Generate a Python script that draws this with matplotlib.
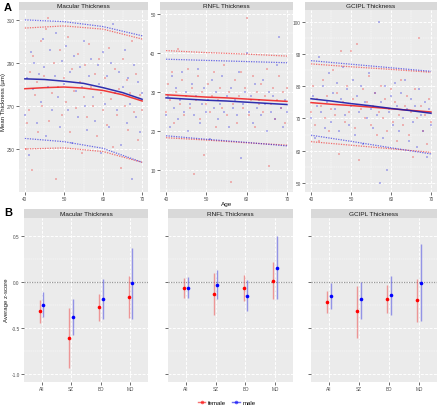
import matplotlib
matplotlib.use('Agg')
import matplotlib.pyplot as plt
from matplotlib.lines import Line2D

plt.rcParams['font.family'] = ['Liberation Sans', 'DejaVu Sans']

W, H = 440, 410
RED = '#F21818'
BLUE = '#1010E0'
GRID_BG = '#EBEBEB'
STRIP_BG = '#D9D9D9'
TXT = '#4D4D4D'

# ---------------- panel A data ----------------
ages = [40, 50, 60, 70]
fit_ages = [40, 45, 50, 55, 60, 65, 70]

# Macular thickness
mac_f_age = [40.2, 40.5, 41, 41.3, 41.8, 42, 42.5, 43, 43.4, 44, 44.5, 45, 45.5, 46, 46.3, 47, 47.5, 48, 48.4, 49,
             49.5, 50, 50.5, 51, 51.5, 52, 52.5, 53, 53.5, 54, 54.5, 55, 55.5, 56, 56.5, 57, 57.5, 58, 58.5, 59,
             59.5, 60, 60.5, 61, 61.5, 62, 62.5, 63, 63.5, 64, 64.5, 65, 65.5, 66, 66.5, 67, 67.5, 68, 68.5, 69,
             69.5, 70]
mac_f_val = [250, 262, 268, 286, 240, 293, 275, 281, 258, 300, 270, 284, 306, 311, 263, 276, 290, 236, 279, 296,
             266, 283, 272, 302, 258, 287, 277, 269, 294, 281, 248, 274, 289, 265, 299, 279, 270, 285, 256, 292,
             276, 268, 283, 261, 297, 273, 251, 287, 266, 278, 241, 292, 270, 282, 259, 276, 300, 267, 285, 254,
             275, 268]
mac_m_age = [40.1, 40.6, 41, 41.5, 42, 42.4, 43, 43.5, 44, 44.6, 45, 45.5, 46, 46.5, 47, 47.6, 48, 48.5, 49, 49.5,
             50, 50.6, 51, 51.5, 52, 52.5, 53, 53.6, 54, 54.5, 55, 55.5, 56, 56.5, 57, 57.5, 58, 58.6, 59, 59.5,
             60, 60.5, 61, 61.6, 62, 62.5, 63, 63.5, 64, 64.5, 65, 65.5, 66, 66.5, 67, 67.5, 68, 68.5, 69, 69.5, 70]
mac_m_val = [266, 283, 247, 295, 278, 290, 262, 285, 272, 301, 288, 256, 279, 296, 268, 284, 304, 274, 260, 291,
             280, 298, 268, 286, 253, 293, 277, 265, 288, 279, 300, 270, 259, 284, 292, 274, 263, 289, 280, 248,
             295, 271, 284, 260, 290, 308, 276, 268, 286, 252, 279, 296, 262, 283, 271, 236, 289, 265, 281, 258, 276]
mac_f_fit = [278.0, 278.5, 278.8, 278.3, 277.2, 275.2, 272.3]
mac_m_fit = [282.6, 282.3, 281.5, 280.5, 278.5, 276.2, 273.1]
mac_f_hi = [306.2, 307.2, 305.7, 301.1]
mac_m_hi = [310.0, 309.2, 306.9, 302.6]
mac_f_lo = [250.0, 250.5, 248.8, 243.8]
mac_m_lo = [254.9, 253.4, 250.3, 243.8]

# RNFL thickness
rnfl_f_age = [40, 40.4, 41, 41.5, 42, 42.5, 43, 43.5, 44, 44.5, 45, 45.5, 46, 46.5, 47, 47.5, 48, 48.5, 49, 49.5,
              50, 50.5, 51, 51.5, 52, 52.5, 53, 53.5, 54, 54.5, 55, 55.5, 56, 56.5, 57, 57.5, 58, 58.5, 59, 59.5,
              60, 60.5, 61, 61.5, 62, 62.5, 63, 63.5, 64, 64.5, 65, 65.5, 66, 66.5, 67, 67.5, 68, 68.5, 69, 69.5, 70]
rnfl_f_val = [25, 32, 28, 35, 22, 30, 41, 27, 33, 24, 29, 36, 26, 31, 9, 28, 34, 23, 30, 14,
              27, 32, 25, 29, 35, 21, 28, 31, 26, 37, 24, 30, 7, 27, 33, 22, 29, 35, 26, 31,
              49, 24, 28, 34, 21, 30, 27, 32, 25, 29, 36, 11, 27, 31, 23, 28, 34, 26, 30, 22, 31]
rnfl_m_age = [40, 40.5, 41, 41.5, 42, 42.5, 43, 43.5, 44, 44.5, 45, 45.5, 46, 46.5, 47, 47.5, 48, 48.5, 49, 49.5,
              50, 50.5, 51, 51.5, 52, 52.5, 53, 53.5, 54, 54.5, 55, 55.5, 56, 56.5, 57, 57.5, 58, 58.5, 59, 59.5,
              60, 60.5, 61, 61.5, 62, 62.5, 63, 63.5, 64, 64.5, 65, 65.5, 66, 66.5, 67, 67.5, 68, 68.5, 69, 69.5, 70]
rnfl_m_val = [24, 29, 21, 34, 26, 31, 23, 28, 35, 25, 30, 20, 27, 32, 24, 29, 36, 22, 27, 31,
              25, 28, 18, 33, 26, 30, 23, 27, 34, 25, 29, 21, 31, 26, 28, 24, 35, 13, 27, 30,
              40, 25, 29, 22, 32, 26, 28, 24, 33, 27, 20, 30, 25, 29, 23, 37, 44, 26, 21, 28, 25]
rnfl_f_fit = [29.3, 29.0, 28.7, 28.5, 28.2, 27.9, 27.6]
rnfl_m_fit = [28.5, 28.2, 27.9, 27.7, 27.4, 27.1, 26.8]
rnfl_f_hi = [40.6, 40.1, 39.7, 39.2]
rnfl_m_hi = [38.4, 38.1, 37.8, 37.5]
rnfl_f_lo = [18.3, 17.7, 17.0, 16.4]
rnfl_m_lo = [18.8, 17.9, 17.1, 16.2]

# GCIPL thickness
gc_f_age = [40, 40.5, 41, 41.5, 42, 42.5, 43, 43.5, 44, 44.5, 45, 45.5, 46, 46.5, 47, 47.5, 48, 48.5, 49, 49.5,
            50, 50.5, 51, 51.5, 52, 52.5, 53, 53.5, 54, 54.5, 55, 55.5, 56, 56.5, 57, 57.5, 58, 58.5, 59, 59.5,
            60, 60.5, 61, 61.5, 62, 62.5, 63, 63.5, 64, 64.5, 65, 65.5, 66, 66.5, 67, 67.5, 68, 68.5, 69, 69.5, 70]
gc_f_val = [72, 80, 68, 76, 63, 74, 82, 70, 77, 66, 73, 85, 71, 78, 59, 91, 75, 69, 80, 72,
            91, 76, 67, 93, 57, 73, 79, 70, 75, 83, 68, 74, 78, 65, 72, 80, 70, 76, 66, 73,
            79, 69, 75, 63, 71, 82, 68, 74, 77, 65, 72, 58, 79, 70, 95, 74, 66, 71, 62, 76, 69]
gc_m_age = [40, 40.5, 41, 41.5, 42, 42.5, 43, 43.5, 44, 44.5, 45, 45.5, 46, 46.5, 47, 47.5, 48, 48.5, 49, 49.5,
            50, 50.5, 51, 51.5, 52, 52.5, 53, 53.5, 54, 54.5, 55, 55.5, 56, 56.5, 57, 57.2, 57.5, 58, 58.5, 59,
            59.5, 60, 60.5, 61, 61.5, 62, 62.5, 63, 63.5, 64, 64.5, 65, 65.5, 66, 66.5, 67, 67.5, 68, 68.5, 69,
            69.5, 70]
gc_m_val = [70, 77, 64, 74, 89, 72, 80, 67, 75, 84, 69, 78, 73, 81, 66, 76, 86, 71, 79, 68,
            74, 82, 65, 77, 72, 80, 62, 75, 70, 84, 73, 67, 78, 71, 100, 50, 75, 64, 80, 54,
            72, 77, 68, 81, 74, 66, 78, 70, 82, 73, 63, 76, 69, 74, 61, 79, 71, 66, 75, 58,
            73, 68]
gc_f_fit = [74.9, 74.4, 74.0, 73.5, 73.0, 72.5, 72.0]
gc_m_fit = [76.1, 75.4, 74.6, 73.9, 73.1, 72.4, 71.6]
gc_f_hi = [86.9, 86.0, 85.2, 84.3]
gc_m_hi = [87.9, 86.8, 85.7, 84.6]
gc_f_lo = [62.8, 61.7, 60.6, 59.5]
gc_m_lo = [64.8, 62.9, 60.9, 59.0]

# ---------------- panel B data ----------------
groups = ['All', 'SZ', 'BD', 'MD']
mac_f_z = [-0.32, -0.61, -0.27, -0.16]
mac_f_zlo = [-0.45, -0.94, -0.42, -0.39]
mac_f_zhi = [-0.20, -0.28, -0.13, 0.07]
mac_m_z = [-0.25, -0.385, -0.19, -0.015]
mac_m_zlo = [-0.38, -0.58, -0.40, -0.40]
mac_m_zhi = [-0.11, -0.18, 0.03, 0.37]

rnfl_f_z = [-0.06, -0.13, -0.065, 0.007]
rnfl_f_zlo = [-0.17, -0.36, -0.21, -0.19]
rnfl_f_zhi = [0.04, 0.10, 0.075, 0.22]
rnfl_m_z = [-0.06, -0.03, -0.15, 0.15]
rnfl_m_zlo = [-0.17, -0.18, -0.31, -0.19]
rnfl_m_zhi = [0.05, 0.13, 0.02, 0.50]

gc_f_z = [-0.22, -0.32, -0.18, -0.20]
gc_f_zlo = [-0.34, -0.61, -0.34, -0.43]
gc_f_zhi = [-0.10, -0.04, -0.03, 0.03]
gc_m_z = [-0.15, -0.19, -0.14, -0.01]
gc_m_zlo = [-0.29, -0.40, -0.36, -0.42]
gc_m_zhi = [-0.01, 0.0, 0.07, 0.41]

fig = plt.figure(figsize=(W / 100, H / 100), dpi=100)


def px_axes(x0, y0, x1, y1, **kw):
    return fig.add_axes([x0 / W, 1 - y1 / H, (x1 - x0) / W, (y1 - y0) / H], **kw)


def style_panel(ax, major_y, minor_y, major_x, minor_x=None):
    ax.set_facecolor(GRID_BG)
    for s in ax.spines.values():
        s.set_visible(False)
    ax.set_yticks(major_y)
    ax.set_yticks(minor_y, minor=True)
    ax.set_xticks(major_x)
    if minor_x is not None:
        ax.set_xticks(minor_x, minor=True)
    ax.grid(True, which='major', color='white', lw=0.7, ls=(0, (3, 1.5)))
    ax.grid(True, which='minor', color='white', lw=0.35, ls=(0, (3, 1.5)))
    ax.set_axisbelow(True)
    ax.tick_params(which='major', length=2, width=0.5, color='#333333', labelsize=3.4,
                   labelcolor=TXT, pad=1.2)
    ax.tick_params(which='minor', length=0)


def strip(x0, y0, x1, y1, title):
    s = px_axes(x0, y0, x1, y1)
    s.set_facecolor(STRIP_BG)
    s.set_xticks([])
    s.set_yticks([])
    for sp in s.spines.values():
        sp.set_visible(False)
    s.text(0.5, 0.5, title, ha='center', va='center', fontsize=4.6, color='#1A1A1A',
           transform=s.transAxes)


def scatter_panel(ax, fa, fv, ma, mv, ffit, mfit, fhi, mhi, flo, mlo):
    ax.scatter(fa, fv, s=4, marker='s', color=RED, alpha=0.28, lw=0)
    ax.scatter(ma, mv, s=4, marker='s', color=BLUE, alpha=0.28, lw=0)
    ax.plot(fit_ages, ffit, color=RED, lw=1.1, alpha=0.85)
    ax.plot(fit_ages, mfit, color='#1A1AA8', lw=1.1, alpha=0.9)
    for y, c in [(fhi, RED), (flo, RED), (mhi, BLUE), (mlo, BLUE)]:
        ax.plot(ages, y, color=c, lw=0.9, ls=(0, (1, 1)), alpha=0.6)
    ax.set_xlim(38.5, 71.5)


# Panel A
A_TOP, A_STRIP, A_BOT = 3, 11, 193
a_boxes = [(19, 148), (160, 293), (305, 437)]
a_titles = ['Macular Thickness', 'RNFL Thickness', 'GCIPL Thickness']

ax1 = px_axes(a_boxes[0][0], A_STRIP, a_boxes[0][1], A_BOT)
scatter_panel(ax1, mac_f_age, mac_f_val, mac_m_age, mac_m_val, mac_f_fit, mac_m_fit,
              mac_f_hi, mac_m_hi, mac_f_lo, mac_m_lo)
ax1.set_ylim(230, 314.6)
style_panel(ax1, [250, 270, 290, 310], [240, 260, 280, 300], ages, [45, 55, 65])

ax2 = px_axes(a_boxes[1][0], A_STRIP, a_boxes[1][1], A_BOT)
scatter_panel(ax2, rnfl_f_age, rnfl_f_val, rnfl_m_age, rnfl_m_val, rnfl_f_fit, rnfl_m_fit,
              rnfl_f_hi, rnfl_m_hi, rnfl_f_lo, rnfl_m_lo)
ax2.set_ylim(4.4, 51)
style_panel(ax2, [10, 20, 30, 40, 50], [5, 15, 25, 35, 45], ages, [45, 55, 65])

ax3 = px_axes(a_boxes[2][0], A_STRIP, a_boxes[2][1], A_BOT)
scatter_panel(ax3, gc_f_age, gc_f_val, gc_m_age, gc_m_val, gc_f_fit, gc_m_fit,
              gc_f_hi, gc_m_hi, gc_f_lo, gc_m_lo)
ax3.set_ylim(47.2, 103.6)
style_panel(ax3, [50, 60, 70, 80, 90, 100], [55, 65, 75, 85, 95], ages, [45, 55, 65])

for (x0, x1), t in zip(a_boxes, a_titles):
    strip(x0, A_TOP, x1, A_STRIP, t)

fig.text(4 / W, 1 - 102 / H, 'Mean Thickness (\u00b5m)', rotation=90, ha='center', va='center',
         fontsize=4.3, color='#1A1A1A')
fig.text(227 / W, 1 - 205 / H, 'Age', ha='center', va='center', fontsize=4.6, color='#1A1A1A')
fig.text(4 / W, 1 - 8 / H, 'A', ha='left', va='center', fontsize=8, fontweight='bold')

# Panel B
B_TOP, B_STRIP, B_BOT = 210, 219, 383
b_boxes = [(24, 148), (168, 293), (311, 437)]
dodge = 0.06
xpos = list(range(len(groups)))
b_data = [
    (mac_f_z, mac_f_zlo, mac_f_zhi, mac_m_z, mac_m_zlo, mac_m_zhi),
    (rnfl_f_z, rnfl_f_zlo, rnfl_f_zhi, rnfl_m_z, rnfl_m_zlo, rnfl_m_zhi),
    (gc_f_z, gc_f_zlo, gc_f_zhi, gc_m_z, gc_m_zlo, gc_m_zhi),
]
for i, ((x0, x1), t, d) in enumerate(zip(b_boxes, a_titles, b_data)):
    ax = px_axes(x0, B_STRIP, x1, B_BOT)
    fz, flo, fhi, mz, mlo, mhi = d
    xf = [x - dodge for x in xpos]
    xm = [x + dodge for x in xpos]
    ax.axhline(0, color='#9A9A9A', lw=0.9, ls=(0, (1, 1)), zorder=1)
    ax.vlines(xf, flo, fhi, color=RED, lw=1.0, alpha=0.4, zorder=2)
    ax.vlines(xm, mlo, mhi, color=BLUE, lw=1.0, alpha=0.4, zorder=2)
    ax.plot(xf, fz, 'o', color='#FF0000', ms=2.6, mec='none', zorder=3)
    ax.plot(xm, mz, 'o', color='#0000FF', ms=2.6, mec='none', zorder=3)
    ax.set_xlim(-0.6, 3.6)
    ax.set_ylim(-1.087, 0.696)
    style_panel(ax, [-1.0, -0.5, 0.0, 0.5], [-0.75, -0.25, 0.25], xpos)
    ax.set_xticklabels(groups)
    if i == 0:
        ax.set_yticklabels(['-1.0', '-0.5', '0.0', '0.5'])
    else:
        ax.set_yticklabels([])
    strip(x0, B_TOP, x1, B_STRIP, t)

fig.text(7 / W, 1 - 300 / H, 'Average z-score', rotation=90, ha='center', va='center',
         fontsize=4.3, color='#1A1A1A')
fig.text(4 / W, 1 - 213 / H, 'B', ha='left', va='center', fontsize=8, fontweight='bold')

handles = [
    Line2D([0], [0], color=RED, lw=1.0, alpha=0.6, marker='o', mfc='#FF0000', mec='none', ms=2.6),
    Line2D([0], [0], color=BLUE, lw=1.0, alpha=0.6, marker='o', mfc='#0000FF', mec='none', ms=2.6),
]
fig.legend(handles, ['female', 'male'], loc='center', bbox_to_anchor=(227 / W, 1 - 403 / H),
           ncol=2, frameon=False, fontsize=4.3, handlelength=1.2, handletextpad=0.5,
           columnspacing=1.0)

fig.savefig('out.png', dpi=100, facecolor='white')
